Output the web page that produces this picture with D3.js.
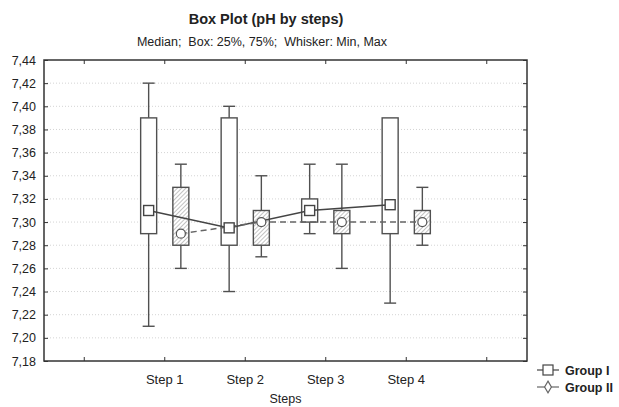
<!DOCTYPE html>
<html lang="en">
<head>
<meta charset="UTF-8">
<title>Box Plot (pH by steps)</title>
<script src="https://d3js.org/d3.v7.min.js"></script>
<style>
  body { margin: 0; background: #fff; }
  text { font-family: "Liberation Sans", Arial, sans-serif; fill: #222; }
</style>
</head>
<body>
<svg width="619" height="407"></svg>
<script>
// data
const steps = ["Step 1", "Step 2", "Step 3", "Step 4"];
const xSlots = ["", "Step 1", "Step 2", "Step 3", "Step 4", ""];
const yTicks = [7.18, 7.20, 7.22, 7.24, 7.26, 7.28, 7.30, 7.32, 7.34, 7.36, 7.38, 7.40, 7.42, 7.44];

const g1Min = [7.21, 7.24, 7.29, 7.23];
const g1Q1  = [7.29, 7.28, 7.30, 7.29];
const g1Med = [7.31, 7.295, 7.31, 7.315];
const g1Q3  = [7.39, 7.39, 7.32, 7.39];
const g1Max = [7.42, 7.40, 7.35, 7.39];

const g2Min = [7.26, 7.27, 7.26, 7.28];
const g2Q1  = [7.28, 7.28, 7.29, 7.29];
const g2Med = [7.29, 7.30, 7.30, 7.30];
const g2Q3  = [7.33, 7.31, 7.31, 7.31];
const g2Max = [7.35, 7.34, 7.35, 7.33];

const svg = d3.select("svg");
const pLeft = 44, pRight = 527, pTop = 60, pBottom = 361;

const x = d3.scaleBand().domain(d3.range(xSlots.length)).range([pLeft, pRight]);
const y = d3.scaleLinear().domain([7.18, 7.44]).range([pBottom, pTop]);
const bw = x.bandwidth();
const cx = i => x(i + 1) + bw / 2;   // step i -> slot i+1
const comma = d3.formatLocale({decimal: ",", thousands: ".", grouping: [3], currency: ["", ""]}).format(".2f");

// hatch pattern
const defs = svg.append("defs");
const pat = defs.append("pattern").attr("id", "hatch")
  .attr("patternUnits", "userSpaceOnUse").attr("width", 3).attr("height", 3)
  .attr("patternTransform", "rotate(45)");
pat.append("rect").attr("width", 3).attr("height", 3).attr("fill", "#fff");
pat.append("line").attr("x1", 0).attr("y1", 0).attr("x2", 0).attr("y2", 3)
  .attr("stroke", "#888").attr("stroke-width", 1);

// grid
svg.append("g").selectAll("line").data(yTicks.slice(1, -1)).join("line")
  .attr("x1", pLeft).attr("x2", pRight)
  .attr("y1", d => y(d)).attr("y2", d => y(d))
  .attr("stroke", "#d4d4d4").attr("stroke-dasharray", "1,2");

// axes (ticks inside)
svg.append("g").attr("transform", `translate(${pLeft},0)`)
  .call(d3.axisLeft(y).tickValues(yTicks).tickSize(-4).tickPadding(8).tickFormat(comma))
  .call(g => g.select(".domain").remove())
  .call(g => g.selectAll("text").attr("font-size", 12.5).style("fill", "#222"));
svg.append("g").attr("transform", `translate(${pRight},0)`)
  .call(d3.axisRight(y).tickValues(yTicks).tickSize(-4).tickFormat(""))
  .call(g => g.select(".domain").remove());
svg.append("g").attr("transform", `translate(0,${pBottom})`)
  .call(d3.axisBottom(x).tickSize(-4).tickPadding(14).tickFormat(i => xSlots[i]))
  .call(g => g.select(".domain").remove())
  .call(g => g.selectAll("text").attr("font-size", 13).style("fill", "#222"));
svg.append("g").attr("transform", `translate(0,${pTop})`)
  .call(d3.axisTop(x).tickSize(-4).tickFormat(""))
  .call(g => g.select(".domain").remove());
svg.selectAll(".tick line").attr("stroke", "#333");

svg.append("rect").attr("x", pLeft).attr("y", pTop)
  .attr("width", pRight - pLeft).attr("height", pBottom - pTop)
  .attr("fill", "none").attr("stroke", "#333").attr("stroke-width", 1.5);

// box groups
const off = bw * 0.2, boxW = 16, capW = 12;
function drawBoxes(mins, q1, q3, maxs, dx, fill) {
  const g = svg.append("g").attr("stroke", "#505050").attr("stroke-width", 1.4);
  steps.forEach((s, i) => {
    const c = cx(i) + dx;
    g.append("line").attr("x1", c).attr("x2", c).attr("y1", y(maxs[i])).attr("y2", y(q3[i]));
    g.append("line").attr("x1", c).attr("x2", c).attr("y1", y(q1[i])).attr("y2", y(mins[i]));
    if (maxs[i] > q3[i])
      g.append("line").attr("x1", c - capW / 2).attr("x2", c + capW / 2).attr("y1", y(maxs[i])).attr("y2", y(maxs[i]));
    if (mins[i] < q1[i])
      g.append("line").attr("x1", c - capW / 2).attr("x2", c + capW / 2).attr("y1", y(mins[i])).attr("y2", y(mins[i]));
    g.append("rect").attr("x", c - boxW / 2).attr("y", y(q3[i]))
      .attr("width", boxW).attr("height", y(q1[i]) - y(q3[i])).attr("fill", fill);
  });
}
drawBoxes(g1Min, g1Q1, g1Q3, g1Max, -off, "#fff");
drawBoxes(g2Min, g2Q1, g2Q3, g2Max, off, "url(#hatch)");

// median lines
const line = d3.line();
svg.append("path")
  .attr("d", line(g1Med.map((v, i) => [cx(i) - off, y(v)])))
  .attr("fill", "none").attr("stroke", "#444").attr("stroke-width", 1.5);
svg.append("path")
  .attr("d", line(g2Med.map((v, i) => [cx(i) + off, y(v)])))
  .attr("fill", "none").attr("stroke", "#666").attr("stroke-width", 1.5)
  .attr("stroke-dasharray", "6,4");

// median markers
svg.append("g").selectAll("rect").data(g1Med).join("rect")
  .attr("x", (d, i) => cx(i) - off - 5).attr("y", d => y(d) - 5)
  .attr("width", 10).attr("height", 10)
  .attr("fill", "#fff").attr("stroke", "#444").attr("stroke-width", 1.4);
svg.append("g").selectAll("circle").data(g2Med).join("circle")
  .attr("cx", (d, i) => cx(i) + off).attr("cy", d => y(d)).attr("r", 4.5)
  .attr("fill", "#fff").attr("stroke", "#555").attr("stroke-width", 1.2);

// titles
svg.append("text").attr("x", 266).attr("y", 24).attr("text-anchor", "middle")
  .attr("font-size", 14.5).attr("font-weight", "bold").text("Box Plot (pH by steps)");
svg.append("text").attr("x", 262).attr("y", 46).attr("text-anchor", "middle")
  .style("white-space", "pre")
  .attr("font-size", 12.5).text("Median;  Box: 25%, 75%;  Whisker: Min, Max");
svg.append("text").attr("x", (pLeft + pRight) / 2).attr("y", 403).attr("text-anchor", "middle")
  .attr("font-size", 12.5).text("Steps");

// legend
const lg = svg.append("g").attr("transform", "translate(537,0)");
lg.append("line").attr("x1", 0).attr("x2", 22).attr("y1", 370).attr("y2", 370).attr("stroke", "#444").attr("stroke-width", 1.2);
lg.append("rect").attr("x", 6).attr("y", 365).attr("width", 10).attr("height", 10)
  .attr("fill", "#fff").attr("stroke", "#444").attr("stroke-width", 1.2);
lg.append("text").attr("x", 28).attr("y", 375).attr("font-size", 12.5).attr("font-weight", "bold").text("Group I");
lg.append("line").attr("x1", 0).attr("x2", 22).attr("y1", 387).attr("y2", 387).attr("stroke", "#666").attr("stroke-width", 1.2);
lg.append("path").attr("transform", "translate(11,387)")
  .attr("d", d3.symbol(d3.symbolDiamond, 40)())
  .attr("fill", "#fff").attr("stroke", "#666").attr("stroke-width", 1.2);
lg.append("text").attr("x", 28).attr("y", 392).attr("font-size", 12.5).attr("font-weight", "bold").text("Group II");
</script>
</body>
</html>
